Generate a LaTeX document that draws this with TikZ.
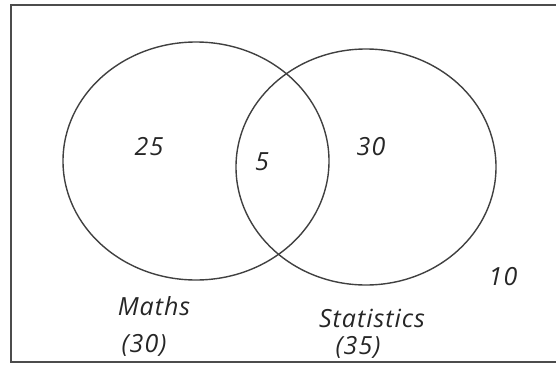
\documentclass[tikz,border=0pt]{standalone}
\usepackage{fontspec}
\setmainfont{Open Sans}[LetterSpace=4]
\usepackage{tikz}
\usetikzlibrary{positioning}

\begin{document}
\begin{tikzpicture}[x=1pt, y=-1pt,
        setline/.style={line width=1.4pt, black!75},
        setlabel/.style={font=\fontsize{25}{27}\selectfont\itshape, text=black!85, inner sep=0pt}]
                \useasboundingbox (0,0) rectangle (556,364);
                \begin{scope}
                \clip (0,0) rectangle (556,364);
                \draw[line width=2pt, black!70] (11,5) rectangle (580,362);
                \end{scope}

                % the two sets
                \draw[setline] (196,161) ellipse [x radius=133, y radius=119];
                \draw[setline] (366,167) ellipse [x radius=130, y radius=118];

                % counts
                \node[setlabel] (onlymaths) at (149,147) {25};
                \node[setlabel] (both) at (262,162) {5};
                \node[setlabel] (onlystats) at (371,147) {30};
                \node[setlabel] (neither) at (503,277) {10};

                % set names
                \node[setlabel] (maths) at (154,306) {Maths};
                \node[setlabel] (mathstotal) at (144,345) {(30)};
                \node[setlabel] (stats) at (372,318) {Statistics};
                \node[setlabel] (statstotal) at (358,347) {(35)};
            \end{tikzpicture}
\end{document}
